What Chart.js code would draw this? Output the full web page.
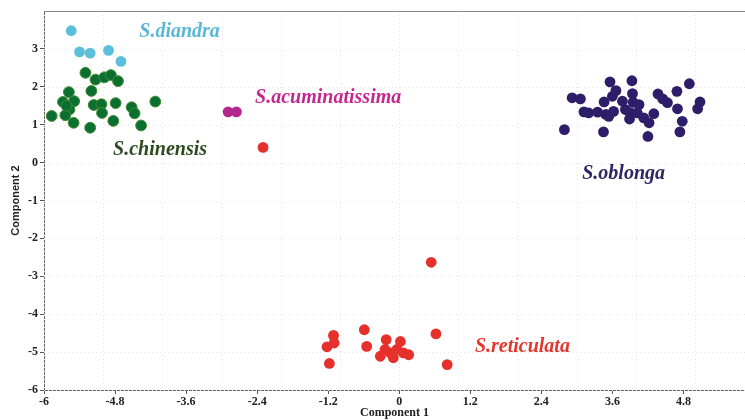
<!DOCTYPE html>
<html><head><meta charset="utf-8">
<script src="https://cdn.jsdelivr.net/npm/chart.js@4.4.0/dist/chart.umd.min.js"></script>
<style>html,body{margin:0;padding:0;background:#fff;}</style>
</head><body>
<canvas id="c" width="745" height="420"></canvas>
<script>
// ---- data ----
const speciesNames = ["S.diandra", "S.chinensis", "S.acuminatissima", "S.reticulata", "S.oblonga"];

const diandraX = [-5.54, -5.40, -5.22, -4.91, -4.70];
const diandraY = [3.48, 2.92, 2.89, 2.96, 2.67];

const chinensisX = [-5.87, -5.68, -5.58, -5.49, -5.57, -5.64, -5.50, -5.22, -5.20, -5.16, -5.03, -5.02, -4.83, -4.79, -4.52, -4.47, -4.36, -4.12, -5.30, -5.13, -4.98, -4.87, -4.75, -5.62];
const chinensisY = [1.23, 1.60, 1.86, 1.62, 1.40, 1.25, 1.05, 0.92, 1.89, 1.52, 1.54, 1.31, 1.10, 1.57, 1.46, 1.30, 0.98, 1.61, 2.37, 2.19, 2.25, 2.31, 2.15, 1.50];

const acuminatissimaX = [-2.89, -2.75];
const acuminatissimaY = [1.34, 1.34];

const reticulataX = [-2.30, 0.54, 0.62, 0.81, -0.59, -1.11, -1.22, -1.10, -1.18, -0.55, -0.22, 0.02, -0.32, -0.15, -0.10, 0.16, -0.24, -0.04, 0.07];
const reticulataY = [0.40, -2.63, -4.52, -5.33, -4.41, -4.56, -4.86, -4.76, -5.30, -4.85, -4.67, -4.72, -5.11, -5.02, -5.15, -5.07, -4.93, -4.93, -5.02];

const oblongaX = [3.56, 3.93, 4.90, 2.92, 3.06, 3.66, 3.60, 3.46, 3.94, 3.95, 4.05, 3.77, 4.37, 4.45, 4.53, 4.69, 5.08, 5.04, 3.12, 3.20, 3.35, 3.49, 3.62, 3.82, 3.91, 4.02, 3.89, 4.70, 4.30, 4.13, 4.22, 4.78, 2.79, 3.45, 4.20, 4.74, 3.54];
const oblongaY = [2.13, 2.16, 2.08, 1.71, 1.68, 1.90, 1.75, 1.60, 1.82, 1.59, 1.53, 1.62, 1.81, 1.68, 1.58, 1.88, 1.60, 1.42, 1.34, 1.31, 1.33, 1.27, 1.35, 1.40, 1.31, 1.31, 1.15, 1.42, 1.29, 1.18, 1.05, 1.09, 0.87, 0.81, 0.69, 0.81, 1.22];

const xTickValues = [-6, -4.8, -3.6, -2.4, -1.2, 0, 1.2, 2.4, 3.6, 4.8];
const yTickValues = [-6, -5, -4, -3, -2, -1, 0, 1, 2, 3];
const xTitle = "Component 1";
const yTitle = "Component 2";

// ---- styling ----
const pointColors = ["#5bbfdc", "#0c6f32", "#b3278f", "#e6302b", "#2e1d68"];
const labelColors = ["#5ab8d6", "#2e4a1f", "#c4288e", "#e4362c", "#2b2762"];
const labelAnchors = [[-3.71, 3.46], [-4.04, 0.34], [-1.20, 1.72], [2.08, -4.86], [3.79, -0.29]];

function pts(xs, ys) { return xs.map((x, i) => ({ x: x, y: ys[i] })); }
const seriesX = [diandraX, chinensisX, acuminatissimaX, reticulataX, oblongaX];
const seriesY = [diandraY, chinensisY, acuminatissimaY, reticulataY, oblongaY];

const datasets = speciesNames.map((n, i) => ({
  label: n,
  data: pts(seriesX[i], seriesY[i]),
  backgroundColor: pointColors[i],
  borderColor: i === 1 ? "#3f8a2e" : pointColors[i],
  borderWidth: i === 1 ? 1 : 0,
  pointRadius: 5.4,
  pointHoverRadius: 5.4
}));

const gridPlugin = {
  id: "gridPlugin",
  beforeDatasetsDraw(chart) {
    const { ctx, chartArea: a, scales: { x, y } } = chart;
    ctx.save();
    ctx.strokeStyle = "#e4e4e4";
    ctx.lineWidth = 1;
    ctx.setLineDash([1, 3]);
    for (let v = Math.ceil(x.min); v <= Math.floor(x.max); v++) {
      const px = Math.round(x.getPixelForValue(v)) + 0.5;
      ctx.beginPath(); ctx.moveTo(px, a.top); ctx.lineTo(px, a.bottom); ctx.stroke();
    }
    for (let v = Math.ceil(y.min); v <= Math.floor(y.max); v++) {
      const py = Math.round(y.getPixelForValue(v)) + 0.5;
      ctx.beginPath(); ctx.moveTo(a.left, py); ctx.lineTo(a.right, py); ctx.stroke();
    }
    ctx.setLineDash([]);
    ctx.strokeStyle = "#8a8a8a";
    ctx.beginPath(); ctx.moveTo(a.left, a.top + 0.5); ctx.lineTo(a.right, a.top + 0.5); ctx.stroke();
    ctx.restore();
  },
  afterDatasetsDraw(chart) {
    const { ctx, scales: { x, y } } = chart;
    ctx.save();
    ctx.font = "italic bold 20px 'Liberation Serif'";
    ctx.textAlign = "center";
    ctx.textBaseline = "middle";
    speciesNames.forEach((n, i) => {
      ctx.fillStyle = labelColors[i];
      ctx.fillText(n, x.getPixelForValue(labelAnchors[i][0]), y.getPixelForValue(labelAnchors[i][1]));
    });
    ctx.restore();
  }
};

const tickFont = { family: "'Liberation Serif'", weight: "bold", size: 12 };

new Chart(document.getElementById("c"), {
  type: "scatter",
  data: { datasets },
  plugins: [gridPlugin],
  options: {
    responsive: false,
    animation: false,
    layout: { autoPadding: false, padding: { top: 11, right: 0, left: 0, bottom: 0 } },
    plugins: { legend: { display: false }, tooltip: { enabled: false } },
    scales: {
      x: {
        type: "linear", min: -6, max: 5.84,
        afterBuildTicks: s => { s.ticks = xTickValues.map(v => ({ value: v })); },
        afterFit: s => { s.height = 30; s.paddingRight = 0; s.paddingLeft = 0; },
        ticks: { font: tickFont, color: "#222", padding: 1, autoSkip: false, maxRotation: 0,
                 callback: v => String(Math.round(v * 10) / 10) },
        grid: { drawOnChartArea: false, drawTicks: true, tickLength: 4, color: "#555" },
        border: { color: "#666", width: 1 },
        title: { display: true, text: xTitle, font: { family: "'Liberation Serif'", weight: "bold", size: 12 }, color: "#222", padding: { top: 0, bottom: 0 } }
      },
      y: {
        type: "linear", min: -6, max: 4,
        afterBuildTicks: s => { s.ticks = yTickValues.map(v => ({ value: v })); },
        afterFit: s => { s.width = 44; s.paddingTop = 0; s.paddingBottom = 0; },
        ticks: { font: tickFont, color: "#222", padding: 2, autoSkip: false,
                 callback: v => String(v) },
        grid: { drawOnChartArea: false, drawTicks: true, tickLength: 4, color: "#555" },
        border: { color: "#666", width: 1 },
        title: { display: true, text: yTitle, font: { family: "'Liberation Sans'", weight: "bold", size: 11 }, color: "#222", padding: { top: 9, bottom: 0 } }
      }
    }
  }
});
</script>
</body></html>
